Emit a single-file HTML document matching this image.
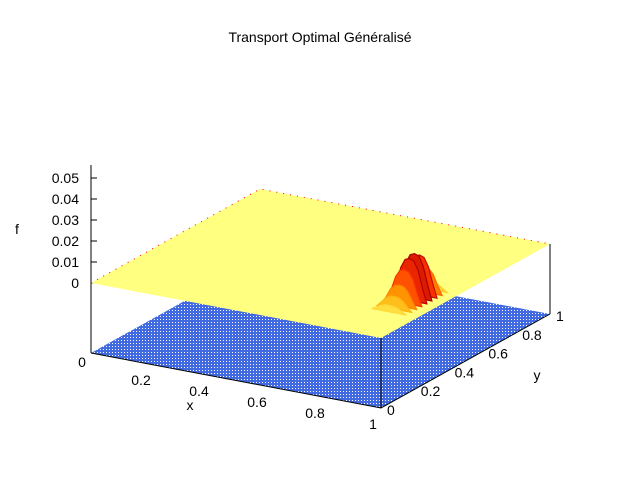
<!DOCTYPE html>
<html><head><meta charset="utf-8"><style>
html,body{margin:0;padding:0;background:#fff}
svg{display:block}
text{font-family:"Liberation Sans",sans-serif;font-size:14px;fill:#000}
</style></head><body>
<svg id="chart" width="640" height="480" viewBox="0 0 640 480">
<defs>
<pattern id="dots" width="3" height="3" patternUnits="userSpaceOnUse">
<rect width="3" height="3" fill="#4169e1"/>
<rect x="1" y="1" width="1" height="1" fill="#fff"/>
</pattern>
</defs>
<text x="320" y="42" text-anchor="middle">Transport Optimal Généralisé</text>
<g id="base"></g>
<g id="axes"></g>
<g id="surf"></g>
<g id="hump"></g>
<g id="labels"></g>
</svg>
<script>
const zTicks=[0,0.01,0.02,0.03,0.04,0.05];
const zTickLabels=["0","0.01","0.02","0.03","0.04","0.05"];
const xTicks=[0.2,0.4,0.6,0.8,1];
const xTickLabels=["0.2","0.4","0.6","0.8","1"];
const yTicks=[0,0.2,0.4,0.6,0.8,1];
const yTickLabels=["0","0.2","0.4","0.6","0.8","1"];
const peakY=[0.46,0.43,0.40,0.37,0.34,0.31,0.28,0.25,0.22];
const peakH=[0.004,0.012,0.019,0.021,0.020,0.016,0.010,0.006,0.003];
const peakXOff=[-0.06,-0.045,-0.03,-0.015,0,0.015,0.03,0.045,0.06];
const peakProfile=[0,0.35,0.75,0.96,1,0.96,0.75,0.35,0];
const peakXc=0.9;

const NS="http://www.w3.org/2000/svg";
function P(x,y,z){return [91+290*x+169*y, 283+55*x-94*y-2100*z];}
function PB(x,y){return [91+290*x+169*y, 353+55*x-94*y];}
function el(tag,attrs,parent){const e=document.createElementNS(NS,tag);for(const k in attrs)e.setAttribute(k,attrs[k]);parent.appendChild(e);return e;}
function pts(a){return a.map(p=>p[0].toFixed(1)+","+p[1].toFixed(1)).join(" ");}
const base=document.getElementById('base'),axes=document.getElementById('axes'),surf=document.getElementById('surf'),hump=document.getElementById('hump'),labels=document.getElementById('labels');

let b=el('polygon',{points:pts([PB(0,0),PB(1,0),PB(1,1),PB(0,1)]),fill:'url(#dots)'},base);



let l=el('line',{x1:91,y1:165,x2:91,y2:353,stroke:'#000'},axes);


l=el('polyline',{points:pts([PB(0,0),PB(1,0),PB(1,1)]),fill:'none',stroke:'#000'},axes);


zTicks.forEach((z,i)=>{const y=283-2100*z;
 let t=el('line',{x1:91,y1:y,x2:97,y2:y,stroke:'#000'},axes);
 
 
 let tx=el('text',{x:79,y:y+5,'text-anchor':'end'},labels);tx.textContent=zTickLabels[i];
 
 
});

let s=el('polygon',{points:pts([P(0,0,0),P(1,0,0),P(1,1,0),P(0,1,0)]),fill:'#ffff80'},surf);


s=el('polyline',{points:pts([P(0,0,0),P(0,1,0),P(1,1,0)]),fill:'none',stroke:'#f00','stroke-dasharray':'1 6'},surf);


l=el('line',{x1:P(1,0,0)[0],y1:P(1,0,0)[1],x2:PB(1,0)[0],y2:PB(1,0)[1],stroke:'#000'},surf);


l=el('line',{x1:P(1,1,0)[0],y1:P(1,1,0)[1],x2:PB(1,1)[0],y2:PB(1,1)[1],stroke:'#000'},surf);



function col(z){const t=Math.min(1,z/0.021);
 const r=t<0.75?255:Math.round(255-(t-0.75)/0.25*90);
 const g=Math.round(255*Math.max(0,1-t*1.05));
 const bl=Math.round(100*Math.max(0,1-t*3));
 return `rgb(${r},${g},${bl})`;}
peakY.forEach((yv,i)=>{
 const top=peakXOff.map((dx,j)=>P(peakXc+dx,yv,peakH[i]*peakProfile[j]));
 const bot=peakXOff.slice().reverse().map(dx=>P(peakXc+dx,yv,0));
 const g=el('polygon',{points:pts(top.concat(bot)),fill:col(peakH[i]*0.85),stroke:col(peakH[i]),'stroke-width':1.2},hump);
 
 
});

let t0=el('text',{x:82,y:367,'text-anchor':'middle'},labels);t0.textContent="0";


xTicks.forEach((x,i)=>{const p=PB(x,0);
 const t=el('text',{x:p[0]-8,y:p[1]+21,'text-anchor':'middle'},labels);t.textContent=xTickLabels[i];
 
 
});
yTicks.forEach((y,i)=>{const p=PB(1,y);
 const t=el('text',{x:p[0]+6,y:p[1]+7,'text-anchor':'start'},labels);t.textContent=yTickLabels[i];
 
 
});
let xl=el('text',{x:190,y:410,'text-anchor':'middle'},labels);xl.textContent="x";


let yl=el('text',{x:537,y:380,'text-anchor':'middle'},labels);yl.textContent="y";


let fl=el('text',{x:17,y:234,'text-anchor':'middle'},labels);fl.textContent="f";


</script>
</body></html>
